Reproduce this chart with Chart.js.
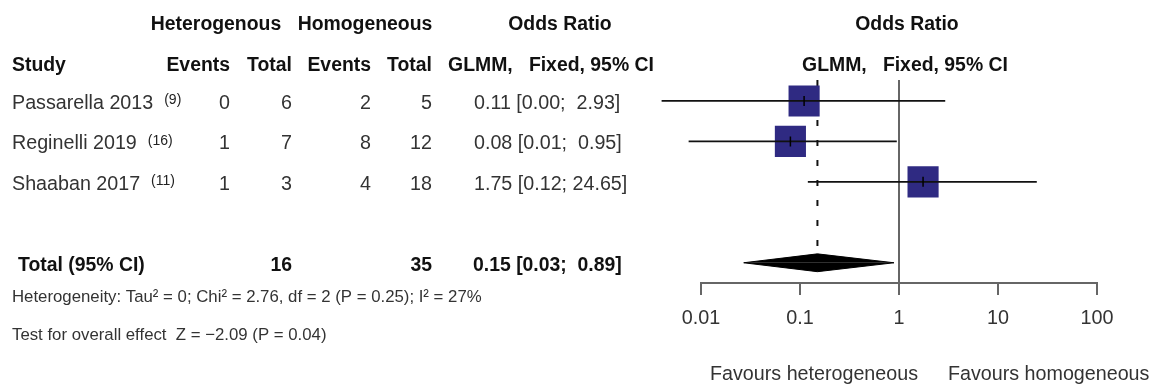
<!DOCTYPE html>
<html>
<head>
<meta charset="utf-8">
<script src="https://cdn.jsdelivr.net/npm/chart.js@4"></script>
<style>
  body { margin: 0; background: #fff; }
  canvas { display: block; }
</style>
</head>
<body>
<canvas id="forest" width="1151" height="390"></canvas>
<script>
// study data
var studies = ['Passarella 2013', 'Reginelli 2019', 'Shaaban 2017'];
var refs = ['(9)', '(16)', '(11)'];
var hetEvents = [0, 1, 1];
var hetTotal = [6, 7, 3];
var homEvents = [2, 8, 4];
var homTotal = [5, 12, 18];
var orLabels = ['0.11 [0.00;  2.93]', '0.08 [0.01;  0.95]', '1.75 [0.12; 24.65]'];
var orEst = [0.11, 0.08, 1.75];
var ciLow = [0.004, 0.0075, 0.12];
var ciHigh = [2.93, 0.95, 24.65];

// pooled
var totalHet = 16;
var totalHom = 35;
var pooledLabel = '0.15 [0.03;  0.89]';
var pooledLow = 0.027;
var pooledEst = 0.15;
var pooledHigh = 0.89;

var tickVals = [0.01, 0.1, 1, 10, 100];

var studyRows = [1, 2, 3];
var totalRow = 5;

var FONT = '"Liberation Sans", Arial, Helvetica, sans-serif';
var BOX = '#2f2a82';
var TEXT_DY = 2.5;

var ciSets = studies.map(function (s, i) {
    return {
        type: 'line',
        data: [{ x: ciLow[i], y: studyRows[i] }, { x: ciHigh[i], y: studyRows[i] }],
        borderColor: '#111',
        borderWidth: 1.8,
        pointRadius: 0,
        fill: false,
        clip: false,
        order: 2
    };
});

var myChart = new Chart(document.getElementById('forest'), {
    type: 'line',
    data: {
        datasets: [
            {
                // centre marks
                type: 'scatter',
                data: orEst.map(function (v, i) { return { x: v, y: studyRows[i] }; }),
                pointStyle: 'line',
                rotation: 90,
                pointRadius: 5,
                borderColor: '#000',
                borderWidth: 1.5,
                order: 1
            }
        ].concat(ciSets).concat([
            {
                type: 'scatter',
                data: orEst.map(function (v, i) { return { x: v, y: studyRows[i] }; }),
                pointStyle: 'rect',
                pointRadius: 22,
                backgroundColor: BOX,
                borderColor: BOX,
                borderWidth: 0,
                order: 3
            },
            {
                // diamond, top half
                type: 'line',
                data: [{ x: pooledLow, y: totalRow }, { x: pooledEst, y: totalRow - 0.22 }, { x: pooledHigh, y: totalRow }],
                borderColor: '#000',
                borderWidth: 1,
                backgroundColor: '#000',
                pointRadius: 0,
                tension: 0,
                fill: { value: totalRow },
                order: 4
            },
            {
                // diamond, bottom half
                type: 'line',
                data: [{ x: pooledLow, y: totalRow }, { x: pooledEst, y: totalRow + 0.22 }, { x: pooledHigh, y: totalRow }],
                borderColor: '#000',
                borderWidth: 1,
                backgroundColor: '#000',
                pointRadius: 0,
                tension: 0,
                fill: { value: totalRow },
                order: 4
            },
            {
                // dashed pooled estimate
                type: 'line',
                data: [{ x: pooledEst, y: 0.48 }, { x: pooledEst, y: 4.73 }],
                borderColor: '#111',
                borderWidth: 2,
                borderDash: [6, 14],
                pointRadius: 0,
                fill: false,
                order: 5
            },
            {
                // line of no effect
                type: 'line',
                data: [{ x: 1, y: 0.48 }, { x: 1, y: 5.5 }],
                borderColor: '#666',
                borderWidth: 2,
                pointRadius: 0,
                fill: false,
                order: 6
            }
        ])
    },
    options: {
        responsive: false,
        animation: false,
        layout: { padding: { left: 701, right: 54, top: 60.5, bottom: 57 } },
        plugins: { legend: { display: false }, tooltip: { enabled: false } },
        scales: {
            x: {
                type: 'logarithmic',
                min: 0.01,
                max: 100,
                afterBuildTicks: function (scale) {
                    scale.ticks = tickVals.map(function (v) { return { value: v }; });
                },
                afterFit: function (scale) { scale.height = 50; },
                ticks: {
                    color: '#333',
                    font: { family: FONT, size: 19.8 },
                    padding: 12,
                    maxRotation: 0,
                    autoSkip: false,
                    callback: function (v) { return String(v); }
                },
                grid: { drawOnChartArea: false, drawTicks: true, tickLength: 12, color: '#666', lineWidth: 2 },
                border: { display: true, color: '#666', width: 2 }
            },
            y: {
                type: 'linear',
                reverse: true,
                min: 0,
                max: 5.5,
                display: false
            }
        }
    },
    plugins: [{
        id: 'table',
        afterDraw: function (chart) {
            var ctx = chart.ctx;
            var y = chart.scales.y;
            var x = chart.scales.x;
            function txt(s, px, row, align, bold, size, color) {
                ctx.font = (bold ? 'bold ' : '') + (size || (bold ? 19.4 : 19.7)) + 'px ' + FONT;
                ctx.fillStyle = color || (bold ? '#111' : '#333');
                ctx.textAlign = align;
                ctx.textBaseline = 'middle';
                ctx.fillText(s, px, y.getPixelForValue(row) + TEXT_DY);
            }
            ctx.save();
            // headers
            txt('Heterogenous', 216, -0.95, 'center', true);
            txt('Homogeneous', 365, -0.95, 'center', true);
            txt('Odds Ratio', 560, -0.95, 'center', true);
            txt('Odds Ratio', 907, -0.95, 'center', true);
            txt('Study', 12, 0.06, 'left', true);
            txt('Events', 230, 0.06, 'right', true);
            txt('Total', 292, 0.06, 'right', true);
            txt('Events', 371, 0.06, 'right', true);
            txt('Total', 432, 0.06, 'right', true);
            txt('GLMM,   Fixed, 95% CI', 551, 0.06, 'center', true);
            txt('GLMM,   Fixed, 95% CI', 905, 0.06, 'center', true);

            studies.forEach(function (s, i) {
                var r = studyRows[i];
                ctx.font = '19.7px ' + FONT;
                var w = ctx.measureText(s).width;
                txt(s, 12, r, 'left');
                txt(refs[i], 12 + w + 11, r - 0.07, 'left', false, 14, '#222');
                txt(String(hetEvents[i]), 230, r, 'right');
                txt(String(hetTotal[i]), 292, r, 'right');
                txt(String(homEvents[i]), 371, r, 'right');
                txt(String(homTotal[i]), 432, r, 'right');
                txt(orLabels[i], 474, r, 'left');
            });

            txt('Total (95% CI)', 18, totalRow, 'left', true);
            txt(String(totalHet), 292, totalRow, 'right', true);
            txt(String(totalHom), 432, totalRow, 'right', true);
            txt(pooledLabel, 473, totalRow, 'left', true);

            txt('Heterogeneity: Tau\u00b2 = 0; Chi\u00b2 = 2.76, df = 2 (P = 0.25); I\u00b2 = 27%', 12, 5.80, 'left', false, 16.8, '#333');
            txt('Test for overall effect  Z = \u22122.09 (P = 0.04)', 12, 6.74, 'left', false, 16.8, '#333');

            // favours labels under the axis
            var one = x.getPixelForValue(1);
            txt('Favours heterogeneous', one + 19, 7.69, 'right', false, 19.7, '#333');
            txt('Favours homogeneous', one + 49, 7.69, 'left', false, 19.7, '#333');
            ctx.restore();
        }
    }]
});
</script>
</body>
</html>
